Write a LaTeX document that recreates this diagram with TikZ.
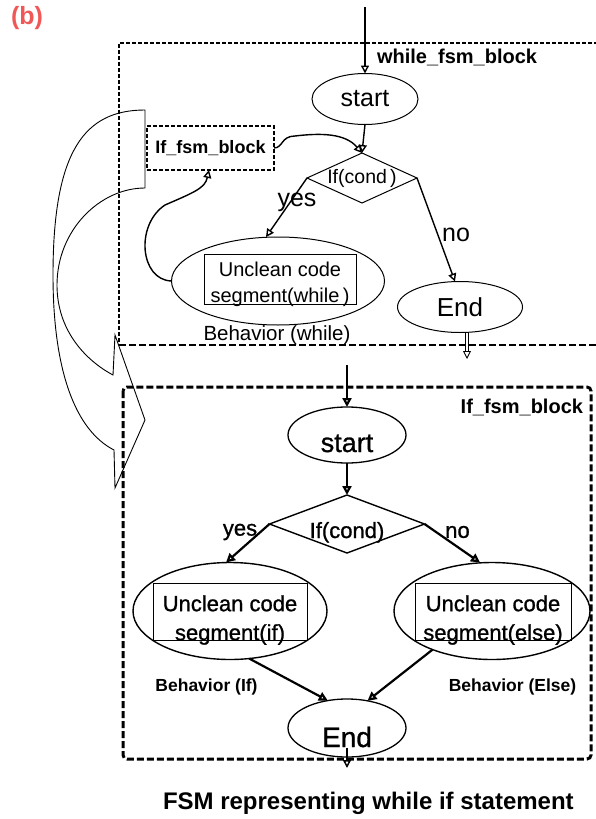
\documentclass[tikz,border=0pt]{standalone}
\usepackage{fontspec}
\setmainfont{Liberation Sans}
\newfontfamily\heavyfont{Liberation Sans}[FakeBold=1]
\usetikzlibrary{arrows.meta,shapes.geometric}
\newcommand\fsz[1]{\fontsize{#1}{#1}\selectfont}
\definecolor{tagred}{RGB}{240,88,88}

\begin{document}
\begin{tikzpicture}[x=1pt,y=-1pt,
  every node/.style={inner sep=0pt, outer sep=0pt},
  oval/.style={draw, ellipse, line width=1pt},
  cond/.style={draw, diamond, line width=1pt},
  arr/.style={-{Triangle[open,length=8pt,width=8pt]}, line width=1.4pt},
  arrbold/.style={-{Triangle[open,length=9pt,width=9pt]}, line width=2.2pt},
  segbox/.style={draw, line width=1pt},
  ]
\useasboundingbox (0,0) rectangle (596,819);

% ---------- block frames ----------
\draw[line width=2.2pt, dash pattern=on 4pt off 2pt] (610,43) -- (119,43) -- (119,345);
\draw[line width=1.6pt, dash pattern=on 7pt off 3pt] (119,345) -- (610,345);
\draw[line width=3pt, dash pattern=on 7pt off 3pt, rounded corners=4pt] (123,387) rectangle (591,759);

% ---------- curved block arrow on the left ----------
\draw[line width=0.9pt] (145,110) -- (145,188)
  .. controls (100,188) and (57,230) .. (57,285)
  .. controls (57,330) and (85,360) .. (113,375)
  -- (115,335) -- (145,420) -- (115,488) -- (114,450)
  .. controls (75,430) and (53,370) .. (53,275)
  .. controls (53,150) and (85,110) .. (145,110) -- cycle;

% ---------- labels ----------
\node[font=\bfseries\fsz{25}, text=tagred, anchor=west] (tag) at (11,18) {(b)};
\node[font=\bfseries\fsz{20}, anchor=west] (whilelbl) at (377,57) {while\_fsm\_block};
\node[font=\bfseries\fsz{20}, anchor=east] (iflbl) at (583,407) {If\_fsm\_block};
\node[font=\bfseries\fsz{24}, anchor=west] (caption) at (163,803) {FSM representing while if statement};

% ---------- while FSM ----------
\node[oval, minimum width=106pt, minimum height=51pt] (start1) at (365,99) {\fsz{25}start};
\node[cond, minimum width=110pt, minimum height=50pt] (cond1) at (362,178) {\makebox[0pt]{\fsz{19.5}If(cond\,)}};
\node[oval, minimum width=125pt, minimum height=51pt] (end1) at (460,307) {\fsz{26}End};
\node[oval, minimum width=213pt, minimum height=88pt] (beh1) at (278,281) {};
\node[segbox, minimum width=152pt, minimum height=50pt] (seg1) at (280,279) {};
\node[align=center, font=\fontsize{20}{26}\selectfont] (seg1txt) at (280,284) {Unclean code\\segment(while\,)};
\node[font=\fsz{20.5}] (behlbl1) at (277,335) {Behavior (while)};
\node[draw, line width=2pt, dash pattern=on 4pt off 2pt, minimum width=127pt, minimum height=44pt,
      font=\bfseries\fsz{18}] (ifblk) at (210.5,148) {If\_fsm\_block};
\node[font=\fsz{25}] (yes1) at (297,202) {yes};
\node[font=\fsz{25}] (no1) at (456,235) {no};

\coordinate (in1) at (365,7);
\coordinate (out1) at (467,359);
\draw[arr] (in1) -- (start1.north);
\draw[arr] (start1.south) -- (cond1.north);
\draw[arr] (cond1.west) -- ([xshift=-12pt]beh1.north);
\draw[arr] (cond1.east) -- ([xshift=-5pt]end1.north);
\draw[arr, line width=0.9pt, double, double distance=2pt] ([xshift=7pt]end1.south) -- (out1);
\draw[arr] (ifblk.east) .. controls (283,148) and (281,136) .. (295,136)
  .. controls (320,133) and (345,133) .. (cond1.north);
\draw[arr] (beh1.west) .. controls (140,280) and (135,225) .. (165,205)
  .. controls (195,192) and (205,188) .. ([xshift=-1.5pt]ifblk.south);

% ---------- if FSM ----------
\node[oval, line width=1.3pt, minimum width=118pt, minimum height=56pt, text height=34pt, text depth=0pt]
  (start2) at (347,435) {\heavyfont\fsz{27}start};
\node[cond, line width=1.4pt, minimum width=155pt, minimum height=58pt, text height=28pt, text depth=0pt]
  (cond2) at (347,524) {\makebox[0pt]{\heavyfont\fsz{22}If(cond)}};
\node[oval, line width=1.3pt, minimum width=118pt, minimum height=58pt, text height=38pt, text depth=0pt]
  (end2) at (347,728) {\heavyfont\fsz{28}End};

\node[oval, line width=1.4pt, minimum width=194pt, minimum height=97pt] (behif) at (230,611) {};
\node[segbox, minimum width=154pt, minimum height=57pt] (segif) at (230,611.5) {};
\node[align=center, font=\heavyfont\fontsize{22}{29}\selectfont] (segiftxt) at (230,620) {Unclean code\\segment(if)};

\node[oval, line width=1.4pt, minimum width=196pt, minimum height=97pt] (behelse) at (492,611) {};
\node[segbox, minimum width=156pt, minimum height=57pt] (segelse) at (493,611.5) {};
\node[align=center, font=\heavyfont\fontsize{22}{29}\selectfont] (segelsetxt) at (493,620) {Unclean code\\segment(else)};

\node[font=\bfseries\fsz{17.5}] (behiflbl) at (206.5,687) {Behavior (If)};
\node[font=\bfseries\fsz{17.5}] (behelselbl) at (512.5,687) {Behavior (Else)};
\node[font=\heavyfont\fsz{22}] (yes2) at (240,532) {yes};
\node[font=\heavyfont\fsz{22}] (no2) at (457.5,532) {no};

\coordinate (in2) at (347,365);
\coordinate (out2) at (347,768);
\draw[arrbold] (in2) -- (start2.north);
\draw[arrbold] (start2.south) -- (cond2.north);
\draw[arrbold] (cond2.west) -- ([xshift=-4pt]behif.north);
\draw[arrbold] (cond2.east) -- ([xshift=-12pt]behelse.north);
\draw[arrbold] (behif.292.6) -- (end2.125);
\draw[arrbold] (behelse.213) -- (end2.53);
\draw[arr, line width=1.5pt] ([yshift=9pt]end2.south) -- (out2);
\end{tikzpicture}
\end{document}
